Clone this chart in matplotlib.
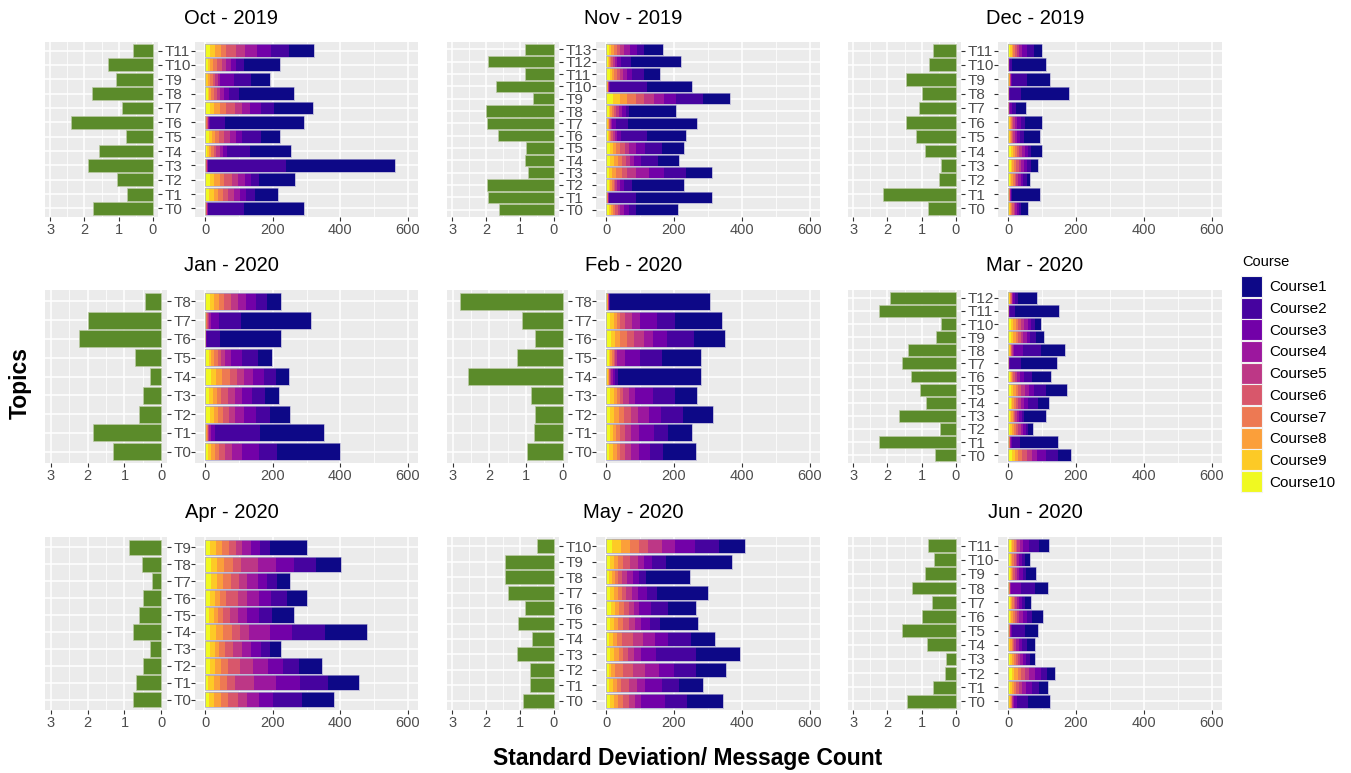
import numpy as np
import matplotlib
matplotlib.use("Agg")
import matplotlib.pyplot as plt
from matplotlib.patches import Patch

plt.rcParams['font.family'] = ['Liberation Sans', 'DejaVu Sans']

# panel titles, row-major
months = ["Oct - 2019", "Nov - 2019", "Dec - 2019",
          "Jan - 2020", "Feb - 2020", "Mar - 2020",
          "Apr - 2020", "May - 2020", "Jun - 2020"]
courses = ["Course%d" % i for i in range(1, 11)]

# standard deviation per topic (T0 upwards)
oct19_sd = [1.74, 0.75, 1.04, 1.88, 1.58, 0.78, 2.39, 0.90, 1.77, 1.07, 1.30, 0.59]
nov19_sd = [1.63, 1.94, 1.97, 0.77, 0.86, 0.83, 1.66, 1.97, 2.00, 0.63, 1.72, 0.84, 1.94, 0.84]
dec19_sd = [0.81, 2.14, 0.50, 0.42, 0.90, 1.17, 1.47, 1.08, 0.99, 1.47, 0.78, 0.66]
jan20_sd = [1.32, 1.84, 0.61, 0.51, 0.32, 0.72, 2.24, 1.99, 0.44]
feb20_sd = [0.96, 0.78, 0.74, 0.85, 2.58, 1.24, 0.74, 1.11, 2.80]
mar20_sd = [0.61, 2.24, 0.47, 1.66, 0.88, 1.05, 1.32, 1.58, 1.39, 0.58, 0.42, 2.24, 1.92]
apr20_sd = [0.76, 0.68, 0.49, 0.32, 0.77, 0.62, 0.49, 0.26, 0.52, 0.88]
may20_sd = [0.90, 0.71, 0.71, 1.10, 0.65, 1.07, 0.84, 1.35, 1.44, 1.44, 0.49]
jun20_sd = [1.44, 0.66, 0.32, 0.29, 0.83, 1.58, 0.99, 0.69, 1.29, 0.90, 0.63, 0.81]

# message counts per topic, each row is Course10 ... Course1 (left to right in the bar)
oct19_counts = [
    [1, 1, 1, 1, 1, 1, 1, 1, 107, 178],
    [12, 13, 13, 14, 15, 18, 17, 18, 27, 68],
    [13, 14, 16, 14, 23, 17, 20, 20, 23, 107],
    [1, 1, 1, 1, 1, 1, 1, 2, 231, 322],
    [5, 5, 7, 8, 8, 10, 10, 12, 68, 122],
    [10, 10, 10, 12, 13, 18, 17, 20, 55, 58],
    [1, 1, 1, 2, 2, 2, 2, 3, 45, 234],
    [13, 14, 18, 18, 24, 23, 23, 32, 40, 113],
    [7, 5, 6, 8, 8, 10, 12, 14, 30, 163],
    [3, 5, 7, 8, 7, 8, 7, 40, 50, 57],
    [7, 6, 10, 12, 15, 13, 15, 14, 23, 106],
    [13, 17, 18, 15, 27, 27, 36, 42, 52, 75],
]
nov19_counts = [
    [7, 7, 6, 7, 7, 8, 10, 15, 20, 125],
    [1, 1, 1, 1, 1, 1, 1, 2, 78, 225],
    [7, 5, 5, 5, 5, 6, 8, 12, 23, 154],
    [7, 10, 13, 17, 13, 27, 40, 43, 65, 78],
    [12, 12, 10, 13, 10, 13, 12, 20, 50, 64],
    [10, 10, 10, 12, 12, 13, 20, 27, 51, 65],
    [4, 3, 3, 4, 5, 6, 8, 10, 77, 115],
    [3, 2, 2, 2, 2, 3, 4, 12, 34, 204],
    [7, 5, 5, 5, 7, 8, 10, 10, 10, 140],
    [20, 22, 20, 25, 25, 28, 30, 37, 77, 81],
    [2, 1, 1, 1, 1, 1, 1, 4, 108, 132],
    [10, 7, 7, 8, 8, 10, 12, 13, 35, 48],
    [4, 3, 3, 4, 6, 7, 5, 12, 30, 147],
    [7, 7, 8, 10, 10, 10, 18, 20, 22, 55],
]
dec19_counts = [
    [3, 3, 3, 3, 4, 4, 5, 6, 8, 19],
    [1, 1, 1, 1, 1, 1, 1, 1, 2, 85],
    [5, 4, 5, 5, 5, 6, 7, 8, 10, 9],
    [7, 5, 6, 6, 7, 7, 8, 8, 12, 21],
    [7, 6, 6, 6, 7, 8, 10, 9, 8, 34],
    [3, 2, 2, 3, 4, 5, 7, 10, 12, 45],
    [3, 2, 2, 3, 4, 5, 8, 10, 12, 50],
    [0.5, 0.5, 0.5, 0.5, 0.5, 0.5, 1, 6, 13, 30],
    [0.5, 0.5, 0.5, 0.5, 0.5, 0.5, 0.5, 0.5, 33, 142],
    [2, 1, 1, 1, 1, 1, 1, 4, 42, 68],
    [0.5, 0.5, 0.5, 0.5, 0.5, 0.5, 0.5, 0.5, 6, 101],
    [5, 5, 5, 4, 6, 7, 10, 13, 22, 22],
]
jan20_counts = [
    [8, 9, 11, 14, 18, 20, 30, 50, 53, 185],
    [2, 1, 2, 2, 2, 3, 5, 13, 133, 189],
    [13, 12, 13, 14, 18, 17, 28, 35, 43, 57],
    [10, 13, 12, 12, 20, 20, 23, 28, 40, 41],
    [17, 16, 17, 25, 20, 20, 28, 30, 37, 38],
    [10, 8, 9, 10, 10, 13, 18, 30, 47, 44],
    [1, 0.5, 0.5, 0.5, 0.5, 0.5, 0.5, 1, 40, 180],
    [2, 1, 1, 1, 2, 3, 8, 22, 65, 208],
    [13, 12, 15, 17, 21, 20, 22, 30, 33, 42],
]
feb20_counts = [
    [9, 11, 11, 10, 15, 17, 25, 31, 38, 98],
    [10, 10, 9, 12, 15, 17, 25, 43, 40, 73],
    [12, 12, 14, 15, 20, 22, 32, 35, 65, 89],
    [12, 10, 9, 10, 10, 15, 19, 52, 66, 64],
    [3, 2, 2, 2, 3, 3, 5, 6, 10, 242],
    [7, 5, 5, 5, 4, 7, 23, 44, 64, 114],
    [14, 12, 15, 20, 21, 28, 29, 39, 81, 91],
    [12, 10, 9, 10, 15, 19, 25, 49, 54, 137],
    [2, 1, 1, 1, 1, 1, 1, 1, 2, 295],
]
mar20_counts = [
    [10, 9, 10, 13, 13, 14, 16, 25, 37, 37],
    [1, 1, 1, 1, 1, 1, 2, 4, 22, 114],
    [6, 5, 5, 7, 7, 7, 7, 8, 7, 15],
    [5, 4, 4, 4, 4, 5, 6, 8, 8, 62],
    [7, 5, 5, 6, 6, 8, 10, 10, 30, 33],
    [7, 7, 8, 8, 9, 10, 11, 17, 35, 60],
    [5, 4, 3, 3, 4, 6, 9, 13, 22, 56],
    [0.5, 0.5, 0.5, 0.5, 0.5, 0.5, 0.5, 0.5, 34, 107],
    [3, 2, 2, 2, 2, 3, 3, 27, 54, 68],
    [9, 6, 7, 7, 8, 8, 9, 11, 17, 23],
    [7, 7, 8, 8, 9, 8, 10, 10, 12, 19],
    [0.5, 0.5, 0.5, 0.5, 0.5, 0.5, 0.5, 0.5, 16, 129],
    [2, 2, 2, 2, 2, 2, 3, 5, 8, 58],
]
apr20_counts = [
    [10, 17, 19, 23, 27, 27, 37, 42, 84, 96],
    [8, 17, 19, 22, 23, 56, 65, 71, 83, 91],
    [15, 15, 17, 22, 34, 40, 44, 44, 48, 66],
    [13, 15, 14, 17, 23, 26, 28, 28, 28, 32],
    [15, 18, 21, 25, 24, 28, 61, 64, 99, 123],
    [12, 13, 14, 15, 20, 24, 25, 35, 41, 64],
    [13, 17, 14, 18, 34, 29, 35, 35, 46, 61],
    [17, 17, 20, 22, 24, 25, 30, 27, 32, 37],
    [18, 16, 22, 25, 24, 51, 53, 55, 64, 74],
    [15, 17, 19, 20, 20, 19, 26, 27, 29, 108],
]
may20_counts = [
    [12, 11, 11, 15, 18, 18, 19, 69, 66, 105],
    [9, 10, 12, 13, 23, 23, 24, 49, 51, 71],
    [7, 7, 12, 25, 27, 36, 42, 43, 65, 89],
    [12, 11, 15, 13, 14, 17, 22, 42, 118, 131],
    [9, 12, 12, 15, 30, 31, 34, 40, 66, 73],
    [12, 11, 13, 15, 16, 18, 17, 27, 29, 114],
    [14, 12, 13, 14, 14, 15, 16, 34, 49, 83],
    [12, 11, 11, 12, 13, 18, 18, 24, 32, 149],
    [9, 8, 9, 10, 10, 16, 18, 17, 20, 129],
    [12, 12, 12, 15, 19, 25, 17, 22, 41, 195],
    [17, 27, 26, 27, 27, 39, 41, 57, 70, 78],
]
jun20_counts = [
    [3, 2, 3, 2, 2, 2, 3, 10, 30, 66],
    [5, 5, 6, 7, 8, 10, 12, 18, 20, 26],
    [10, 7, 12, 8, 12, 13, 17, 18, 18, 22],
    [6, 5, 5, 6, 6, 7, 8, 10, 10, 15],
    [3, 3, 4, 4, 4, 5, 8, 10, 15, 22],
    [1, 1, 1, 1, 1, 1, 2, 3, 39, 39],
    [5, 4, 5, 5, 6, 8, 10, 12, 14, 33],
    [4, 4, 4, 4, 5, 5, 6, 8, 10, 16],
    [1, 1, 1, 1, 1, 1, 2, 30, 41, 38],
    [4, 3, 4, 4, 5, 6, 7, 10, 10, 30],
    [4, 4, 4, 5, 5, 5, 6, 8, 10, 12],
    [7, 5, 5, 5, 5, 8, 10, 17, 28, 30],
]

all_sd = [oct19_sd, nov19_sd, dec19_sd, jan20_sd, feb20_sd, mar20_sd,
          apr20_sd, may20_sd, jun20_sd]
all_counts = [oct19_counts, nov19_counts, dec19_counts, jan20_counts, feb20_counts,
              mar20_counts, apr20_counts, may20_counts, jun20_counts]

W, H = 1351, 773
fig = plt.figure(figsize=(W / 100, H / 100), dpi=100)

def fx(px):
    return px / W

def fy(py):
    return 1 - py / H

green = "#5B8B2A"
panel_bg = "#EBEBEB"
txt_grey = "#4D4D4D"
tick_grey = "#333333"
# Course1 dark ... Course10 yellow
course_cols = plt.cm.plasma(np.linspace(0, 1, 10))
seg_cols = course_cols[::-1]  # segment order in data: Course10 ... Course1

col_outer_left = [45, 447, 848]
col_right = [(195, 418), (596, 820), (998, 1222)]
row_span = [(42, 217), (290, 463), (537, 710)]

def style(ax):
    ax.set_facecolor(panel_bg)
    for s in ax.spines.values():
        s.set_visible(False)
    ax.set_axisbelow(True)
    ax.grid(True, which="major", color="white", lw=1.1)
    ax.grid(True, which="minor", axis="x", color="white", lw=0.55)
    ax.tick_params(axis="x", which="major", length=3, width=0.8, color=tick_grey,
                   labelsize=10.5, labelcolor=txt_grey, pad=1.5)
    ax.tick_params(axis="x", which="minor", length=0)

for i, (title, sd, counts) in enumerate(zip(months, all_sd, all_counts)):
    r, c = divmod(i, 3)
    top, bot = row_span[r]
    n = len(sd)
    y = np.arange(n)
    labels = ["T%d" % k for k in y]
    # room for the topic labels between the two halves
    gap = 37 if n > 10 else 28
    rl, rr = col_right[c]
    ll = col_outer_left[c]
    lr = rl - gap

    # left: standard deviation, reversed axis
    axl = fig.add_axes([fx(ll), fy(bot), fx(lr - ll), (bot - top) / H])
    style(axl)
    axl.barh(y, sd, height=0.9, color=green, edgecolor="#b9c9a3", lw=0.5)
    axl.set_xlim(3.15, -0.15)
    axl.set_ylim(-0.6, n - 0.4)
    axl.set_xticks([3, 2, 1, 0])
    axl.set_xticks([2.5, 1.5, 0.5], minor=True)
    axl.yaxis.tick_right()
    axl.set_yticks(y)
    axl.set_yticklabels(labels)
    axl.tick_params(axis="y", length=3, width=0.8, color=tick_grey,
                    labelsize=11, labelcolor=txt_grey, pad=1.5)

    # right: stacked message counts
    axr = fig.add_axes([fx(rl), fy(bot), fx(rr - rl), (bot - top) / H])
    style(axr)
    vals = np.array(counts, dtype=float)
    left = np.zeros(n)
    for k in range(10):
        axr.barh(y, vals[:, k], left=left, height=0.9, color=seg_cols[k], lw=0)
        left += vals[:, k]
    axr.barh(y, left, height=0.9, fill=False, edgecolor="#a9a6cf", lw=0.5)
    axr.set_xlim(-30, 630)
    axr.set_ylim(-0.6, n - 0.4)
    axr.set_xticks([0, 200, 400, 600])
    axr.set_xticks([100, 300, 500], minor=True)
    axr.set_yticks(y)
    axr.set_yticklabels([])
    axr.tick_params(axis="y", length=3, width=0.8, color=tick_grey)

    fig.text(fx((ll + rr) / 2), fy(top - 24), title, ha="center", va="center",
             fontsize=14.5, color="black")

fig.text(fx(688), fy(758), "Standard Deviation/ Message Count", ha="center",
         va="center", fontsize=16.5, fontweight="bold")
fig.text(fx(20), fy(383), "Topics", ha="center", va="center", rotation=90,
         fontsize=16.5, fontweight="bold")

# legend: title as its own text so the gap to the keys matches
fig.text(fx(1242), fy(262), "Course", ha="left", va="center", fontsize=10.5)
handles = [Patch(facecolor=course_cols[k], edgecolor="#f2f2f2", lw=0.8) for k in range(10)]
fig.legend(handles, courses, loc="upper left",
           bbox_to_anchor=(fx(1241), fy(276)), frameon=False, fontsize=11,
           handlelength=1.37, handleheight=1.73,
           labelspacing=0.05, handletextpad=0.5,
           borderaxespad=0, borderpad=0)

fig.savefig("out.png", dpi=100)
